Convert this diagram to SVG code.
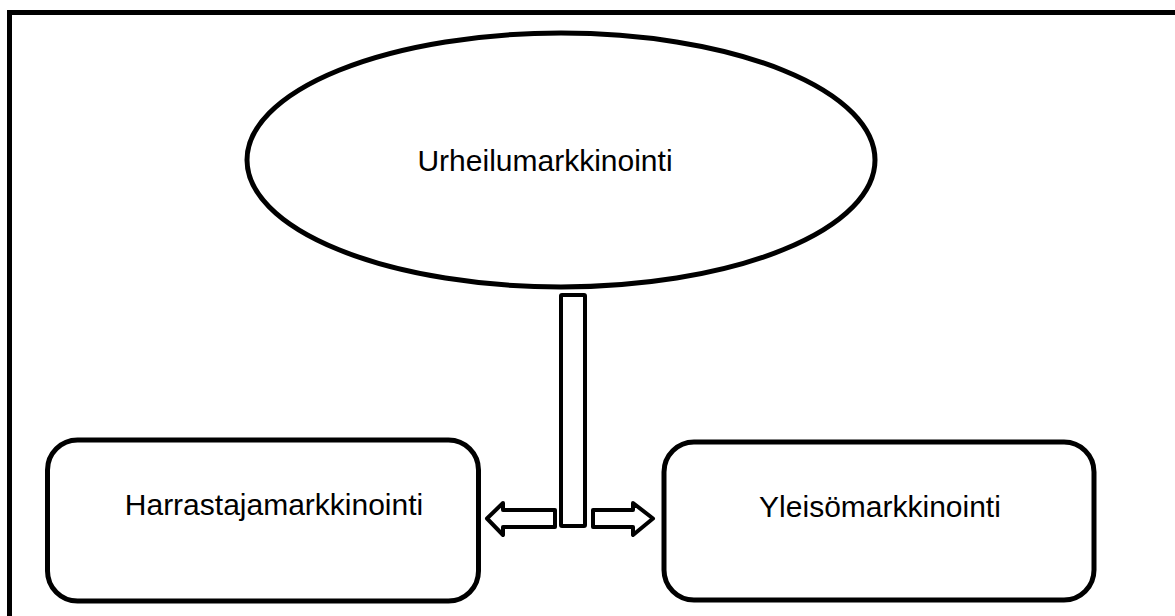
<svg xmlns="http://www.w3.org/2000/svg" width="1175" height="616" viewBox="0 0 1175 616">
<style>
.s{fill:#fff;stroke:#000;stroke-width:5}
.t{font-family:"Liberation Sans",Arial,sans-serif;font-size:30px;fill:#000;text-anchor:middle}
.c{fill:#fff;stroke:#000;stroke-width:4;stroke-linejoin:round}
</style>
<rect width="1175" height="616" fill="#fff"/>
<rect x="9.5" y="12.5" width="1180" height="620" fill="none" stroke="#000" stroke-width="5"/>
<g id="urheilu">
<ellipse class="s" cx="561" cy="160" rx="314" ry="127"/>
<text class="t" x="545" y="171">Urheilumarkkinointi</text>
</g>
<g id="harrastaja">
<rect class="s" x="47.5" y="440" width="431" height="161" rx="30"/>
<text class="t" x="274" y="515">Harrastajamarkkinointi</text>
</g>
<g id="yleiso">
<rect class="s" x="664" y="442" width="430" height="158" rx="30"/>
<text class="t" x="880" y="517">Yleisömarkkinointi</text>
</g>
<g id="connectors">
<rect class="c" x="561" y="295" width="24" height="231" rx="1"/>
<polygon class="c" points="555,510 503,510 503,503 487,518.5 503,535 503,527 555,527"/>
<polygon class="c" points="593,510 633,510 633,503 653,518.5 633,535 633,527 593,527"/>
</g>
</svg>
